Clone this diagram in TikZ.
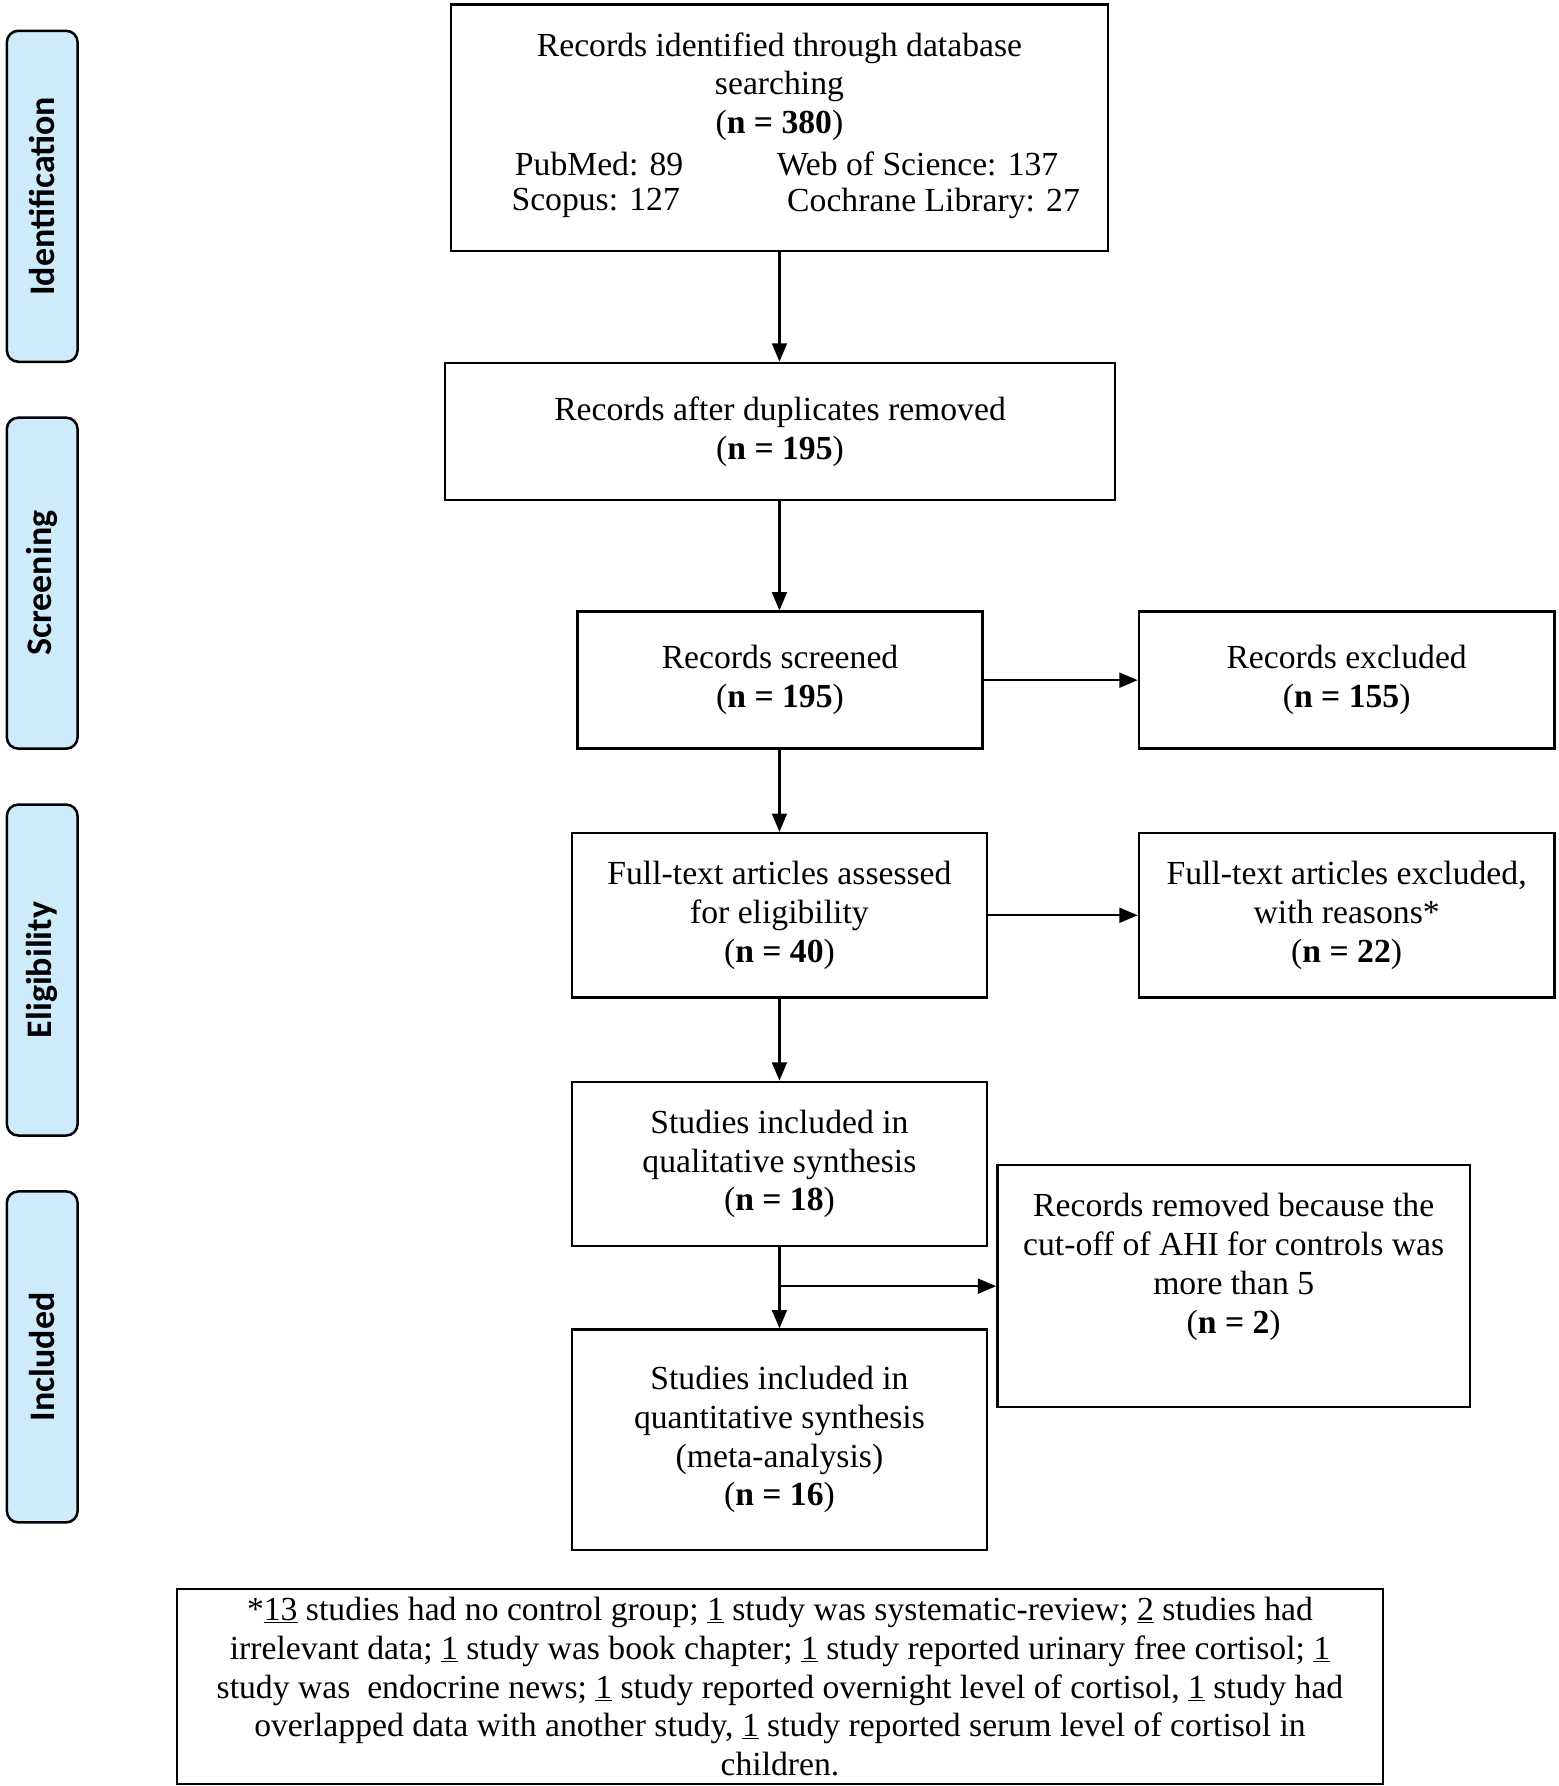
\documentclass[tikz,border=0pt]{standalone}
\usepackage{fontspec}
\setmainfont{Liberation Serif}
\newfontfamily\sidefont{Carlito}
\usetikzlibrary{arrows.meta}
\definecolor{sideblue}{RGB}{205,235,251}
\begin{document}
\begin{tikzpicture}[x=1pt,y=-1pt,
  box/.style={draw,line width=2.2pt,inner sep=0pt,align=center,font=\fontsize{29.5}{34}\selectfont},
  txt/.style={inner sep=0pt,align=center,font=\fontsize{29.5}{34}\selectfont},
  side/.style={draw,line width=2.2pt,rounded corners=10pt,fill=sideblue,minimum width=290pt,minimum height=62pt,inner sep=0pt,rotate=90,font=\sidefont\bfseries\fontsize{31.5}{34}\selectfont},
  arr/.style={line width=2pt,-{Triangle[length=16pt,width=13pt]}}]
\useasboundingbox (0,0) rectangle (1366,1565);
\fill[white] (0,0) rectangle (1366,1565);

% side labels
\node[side] (sid) at (37,172) {Identification};
\node[side] (ssc) at (37,511) {Screening};
\node[side] (sel) at (37,850) {Eligibility};
\node[side] (sin) at (37,1189) {Included};

% identification box
\node[box,minimum width=576pt,minimum height=216pt] (b1) at (683,112) {};
\node[txt] (t1) at (683,76) {Records identified through database\\searching\\(\textbf{n = 380})};
\node[txt] (pm) at (525,144) {PubMed: 89};
\node[txt] (ws) at (804,144) {Web of Science: 137};
\node[txt] (sc) at (522,178) {Scopus: 127};
\node[txt] (cl) at (818,178) {Cochrane Library: 27};

\node[box,minimum width=587pt,minimum height=120pt] (b2) at (683.5,378) {Records after duplicates removed\\(\textbf{n = 195})};
\node[box,minimum width=355pt,minimum height=120pt] (b3) at (683.5,596) {Records screened\\(\textbf{n = 195})};
\node[box,minimum width=364pt,minimum height=120pt] (e1) at (1180,596) {Records excluded\\(\textbf{n = 155})};
\node[box,minimum width=364pt,minimum height=144pt] (b4) at (683,802) {Full-text articles assessed\\for eligibility\\(\textbf{n = 40})};
\node[box,minimum width=364pt,minimum height=144pt] (e2) at (1180,802) {Full-text articles excluded,\\with reasons*\\(\textbf{n = 22})};
\node[box,minimum width=364pt,minimum height=144pt] (b5) at (683,1020) {Studies included in\\qualitative synthesis\\(\textbf{n = 18})};
\node[box,minimum width=414pt,minimum height=212pt] (rm) at (1081,1127) {};
\node[txt] (rmt) at (1081,1110) {Records removed because the\\cut-off of AHI for controls was\\more than 5\\(\textbf{n = 2})};
\node[box,minimum width=364pt,minimum height=193pt] (b6) at (683,1261.5) {Studies included in\\quantitative synthesis\\(meta-analysis)\\(\textbf{n = 16})};

\node[box,line width=1.8pt,minimum width=1057pt,minimum height=171pt] (fn) at (683.5,1478) {*\underline{13} studies had no control group; \underline{1} study was systematic-review; \underline{2} studies had\\
irrelevant data; \underline{1} study was book chapter; \underline{1} study reported urinary free cortisol; \underline{1}\\
study was~ endocrine news; \underline{1} study reported overnight level of cortisol, \underline{1} study had\\
overlapped data with another study, \underline{1} study reported serum level of cortisol in\\
children.};

% connectors
\draw[arr] (b1.south -| 683,0) -- (b2.north -| 683,0);
\draw[arr] (b2.south -| 683,0) -- (b3.north -| 683,0);
\draw[arr] (b3.east) -- (e1.west);
\draw[arr] (b3.south -| 683,0) -- (b4.north -| 683,0);
\draw[arr] (b4.east) -- (e2.west);
\draw[arr] (b4.south) -- (b5.north);
\draw[arr] (b5.south) -- (b6.north);
\draw[arr] (b5.south |- rm.west) -- (rm.west);
\end{tikzpicture}
\end{document}
